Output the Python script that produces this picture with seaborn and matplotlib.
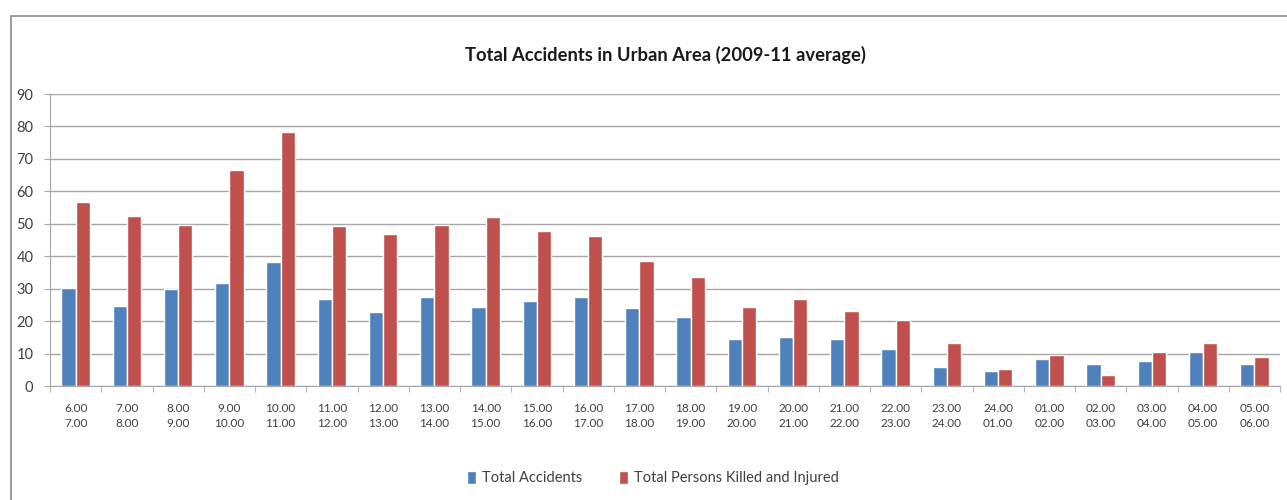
import pandas as pd
import matplotlib
matplotlib.use("Agg")
import matplotlib.pyplot as plt
import seaborn as sns
from matplotlib.patches import Rectangle

# franjas horarias (inicio / fin)
hora_ini = ["6.00", "7.00", "8.00", "9.00", "10.00", "11.00", "12.00", "13.00",
            "14.00", "15.00", "16.00", "17.00", "18.00", "19.00", "20.00", "21.00",
            "22.00", "23.00", "24.00", "01.00", "02.00", "03.00", "04.00", "05.00"]
hora_fin = ["7.00", "8.00", "9.00", "10.00", "11.00", "12.00", "13.00", "14.00",
            "15.00", "16.00", "17.00", "18.00", "19.00", "20.00", "21.00", "22.00",
            "23.00", "24.00", "01.00", "02.00", "03.00", "04.00", "05.00", "06.00"]

accidentes = [30.2, 24.7, 29.8, 31.7, 38.1, 26.7, 22.7, 27.4, 24.2, 26.3, 27.4, 23.9,
              21.2, 14.5, 15.2, 14.5, 11.3, 6.0, 4.6, 8.4, 6.7, 7.7, 10.4, 6.7]
victimas = [56.6, 52.3, 49.7, 66.5, 78.2, 49.2, 46.7, 49.7, 52.0, 47.9, 46.3, 38.4,
            33.7, 24.2, 26.9, 23.1, 20.4, 13.2, 5.3, 9.6, 3.4, 10.4, 13.3, 9.0]

series = ["Total Accidents", "Total Persons Killed and Injured"]
colores = ["#4F81BD", "#C0504D"]

franjas = [a + "\n" + b for a, b in zip(hora_ini, hora_fin)]
df = pd.DataFrame({
    "Franja": franjas * 2,
    "Valor": accidentes + victimas,
    "Serie": [series[0]] * len(franjas) + [series[1]] * len(franjas),
})

sns.set_style("white")
plt.rcParams['font.family'] = ['Lato', 'DejaVu Sans']

fig = plt.figure(figsize=(12.87, 5), dpi=100)
ax = fig.add_axes([50 / 1287, 1 - 386 / 500, 1230 / 1287, 292 / 500])

sns.barplot(data=df, x="Franja", y="Valor", hue="Serie", palette=colores,
            width=0.56, saturation=1, ax=ax)

ax.set_ylim(0, 90)
ax.set_yticks(range(0, 91, 10))
ax.set_xlim(-0.5, len(franjas) - 0.5)
ax.yaxis.grid(True, color="#a6a6a6", linewidth=1)
ax.set_axisbelow(True)
for s in ["top", "right"]:
    ax.spines[s].set_visible(False)
ax.spines["left"].set_color("#a6a6a6")
ax.spines["bottom"].set_color("#a6a6a6")
ax.set_xlabel("")
ax.set_ylabel("")
ax.tick_params(axis="y", labelsize=10.5, colors="#404040", length=4, color="#a6a6a6",
               left=True, pad=8)
ax.tick_params(axis="x", labelsize=8.5, colors="#404040", length=0, pad=12)
for t in ax.get_xticklabels():
    t.set_linespacing(1.5)
# marcas entre categorias
ax.set_xticks([i + 0.5 for i in range(-1, len(franjas))], minor=True)
ax.tick_params(axis="x", which="minor", length=4, color="#a6a6a6", bottom=True)

ax.set_title("Total Accidents in Urban Area (2009-11 average)", fontsize=13.2,
             fontweight="bold", pad=24, color="#1a1a1a")

ax.legend(loc="upper center", bbox_to_anchor=(0.49, -0.245), ncol=2, frameon=False,
          fontsize=10.5, handlelength=0.65, handleheight=1.0, columnspacing=2.5,
          handletextpad=0.4, labelcolor="#404040")

fig.patches.append(Rectangle((11 / 1287, -0.1), 1.2, 1 - 16 / 500 + 0.1,
                             transform=fig.transFigure, fill=False,
                             edgecolor="#8c8c8c", linewidth=1.2))

fig.savefig("out.png", dpi=100)
